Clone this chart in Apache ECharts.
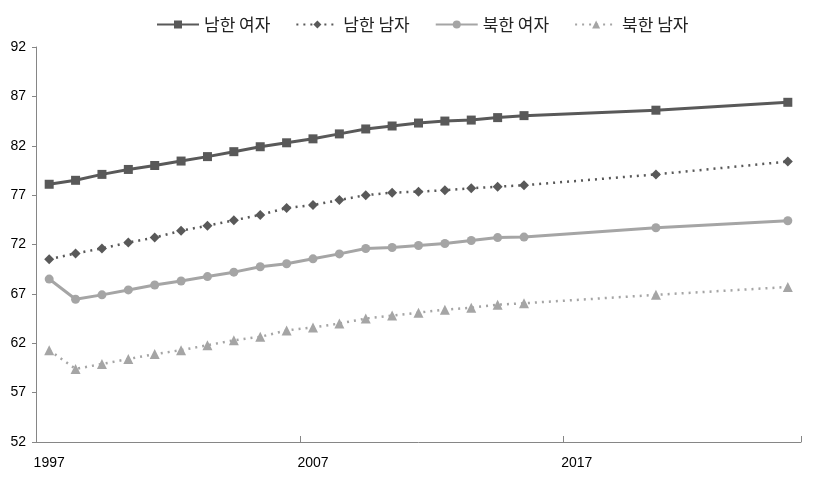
<!DOCTYPE html>
<html><head><meta charset="utf-8">
<script src="https://cdn.jsdelivr.net/npm/echarts@6/dist/echarts.min.js"></script>
<style>html,body{margin:0;padding:0;background:#fff}#c{width:817px;height:477px}</style>
</head><body><div id="c"></div>
<script>
const years = [];
for (let y = 1997; y <= 2025; y++) years.push(String(y));
const dataYears = [1997,1998,1999,2000,2001,2002,2003,2004,2005,2006,2007,2008,2009,2010,2011,2012,2013,2014,2015,2020,2025];
const southFemale = [78.1,78.5,79.1,79.6,80.0,80.45,80.9,81.4,81.9,82.3,82.7,83.2,83.7,84.0,84.3,84.5,84.6,84.85,85.05,85.6,86.4];
const southMale   = [70.5,71.1,71.6,72.2,72.7,73.4,73.9,74.45,75.0,75.7,76.0,76.5,77.0,77.25,77.35,77.5,77.7,77.85,78.0,79.1,80.4];
const northFemale = [68.5,66.45,66.9,67.4,67.9,68.3,68.75,69.2,69.75,70.05,70.55,71.05,71.6,71.7,71.9,72.1,72.4,72.7,72.75,73.7,74.4];
const northMale   = [61.3,59.4,59.9,60.4,60.9,61.3,61.8,62.3,62.65,63.3,63.6,64.0,64.5,64.8,65.1,65.4,65.6,65.9,66.05,66.9,67.7];
const seriesNames = ['남한 여자','남한 남자','북한 여자','북한 남자'];

function toCat(vals){
  const arr = years.map(()=>null);
  dataYears.forEach((y,i)=>{ arr[y-1997] = vals[i]; });
  return arr;
}
const dark = '#595959', light = '#a5a5a5';
const chart = echarts.init(document.getElementById('c'));
chart.setOption({
  animation:false,
  legend:{top:11,left:151,itemWidth:42,itemHeight:10,itemGap:25,
    textStyle:{fontFamily:'Noto Sans CJK KR',fontSize:17,color:'#222'}},
  grid:{left:36,right:16,top:47,bottom:35,containLabel:false},
  xAxis:{type:'category',data:years,boundaryGap:true,
    axisLine:{lineStyle:{color:'#868686',width:1}},
    axisTick:{show:true,inside:true,length:6,interval:9,lineStyle:{color:'#868686',width:1}},
    axisLabel:{interval:(i)=>i%10===0,color:'#000',fontFamily:'Liberation Sans',fontSize:14,margin:14}},
  yAxis:{type:'value',min:52,max:92,interval:5,
    axisLine:{show:true,lineStyle:{color:'#868686'}},
    axisTick:{show:true,length:4,lineStyle:{color:'#868686'}},
    splitLine:{show:false},
    axisLabel:{color:'#000',fontFamily:'Liberation Sans',fontSize:14,margin:10}},
  series:[
    {name:seriesNames[0],type:'line',data:toCat(southFemale),connectNulls:true,symbol:'rect',symbolSize:9,
     lineStyle:{color:dark,width:3},itemStyle:{color:dark}},
    {name:seriesNames[1],type:'line',data:toCat(southMale),connectNulls:true,symbol:'diamond',symbolSize:10,
     lineStyle:{color:dark,width:2.5,type:[2,5]},itemStyle:{color:dark}},
    {name:seriesNames[2],type:'line',data:toCat(northFemale),connectNulls:true,symbol:'circle',symbolSize:9,
     lineStyle:{color:light,width:3},itemStyle:{color:light}},
    {name:seriesNames[3],type:'line',data:toCat(northMale),connectNulls:true,symbol:'triangle',symbolSize:10,
     lineStyle:{color:light,width:2.5,type:[2,5]},itemStyle:{color:light}}
  ]
});
</script></body></html>
